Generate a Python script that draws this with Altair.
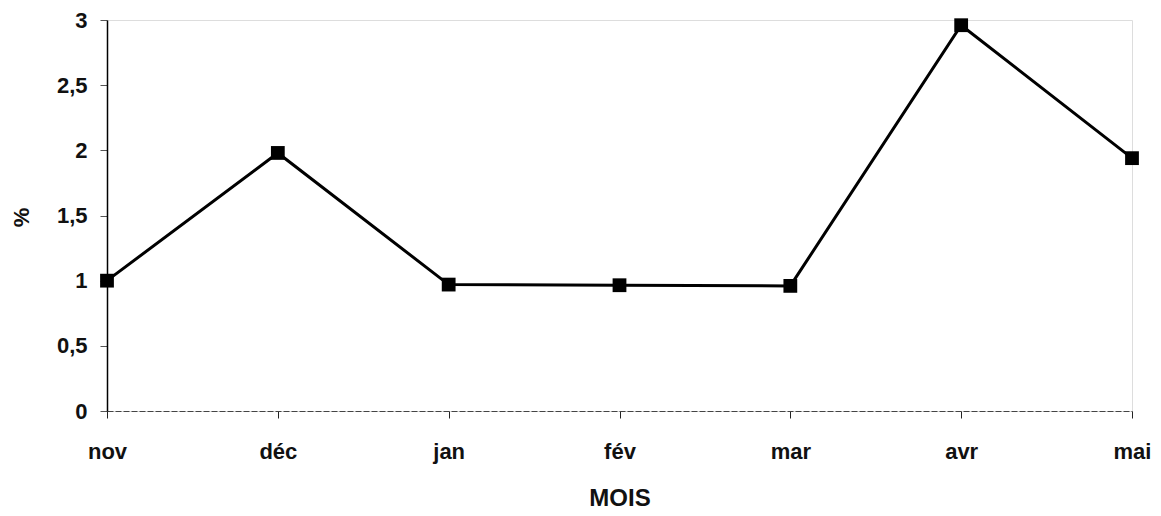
import altair as alt
import pandas as pd

months = ["nov", "déc", "jan", "fév", "mar", "avr", "mai"]
values = [1.0, 1.98, 0.97, 0.965, 0.96, 2.96, 1.94]

df = pd.DataFrame({"mois": months, "pct": values})

FONT = "Liberation Sans"

x = alt.X(
    "mois:N",
    sort=months,
    scale=alt.Scale(type="point", padding=0),
    axis=alt.Axis(
        title="MOIS",
        labelAngle=0,
        domainColor="#444444",
        domainWidth=1,
        domainDash=[6, 2],
        tickColor="#222222",
        tickSize=7,
        tickWidth=1,
        labelPadding=23,
        labelFontSize=22,
        labelFont=FONT,
        labelFontWeight="bold",
        labelColor="#111111",
        titleFont=FONT,
        titleFontSize=24,
        titleFontWeight="bold",
        titleColor="#111111",
        titlePadding=24,
        grid=False,
    ),
)

y = alt.Y(
    "pct:Q",
    scale=alt.Scale(domain=[0, 3], nice=False, zero=True),
    axis=alt.Axis(
        title="%",
        values=[0, 0.5, 1, 1.5, 2, 2.5, 3],
        labelExpr="replace(toString(datum.value), '.', ',')",
        domainColor="#000000",
        domainWidth=1.5,
        tickColor="#555555",
        tickSize=7,
        tickWidth=1,
        labelPadding=13,
        labelFontSize=22,
        labelFont=FONT,
        labelFontWeight="bold",
        labelColor="#111111",
        titleFont=FONT,
        titleFontSize=22,
        titleFontWeight="bold",
        titleColor="#111111",
        titleAngle=-90,
        titleAlign="center",
        titleBaseline="middle",
        titleX=-86,
        titleY=197,
        grid=False,
    ),
)

line = alt.Chart(df).mark_line(color="#000000", strokeWidth=3).encode(x=x, y=y)
pts = alt.Chart(df).mark_point(
    shape="square", filled=True, color="#000000", size=190, opacity=1
).encode(x=x, y=y)

chart = (
    alt.layer(line, pts)
    .properties(
        width=1025,
        height=391,
        autosize=alt.AutoSizeParams(type="none"),
        padding={"left": 107, "top": 20, "right": 29, "bottom": 105},
    )
    .configure_view(stroke=None)
    .configure(background="#ffffff")
)

chart.save("out.html", embed_options={"renderer": "svg", "actions": False})
